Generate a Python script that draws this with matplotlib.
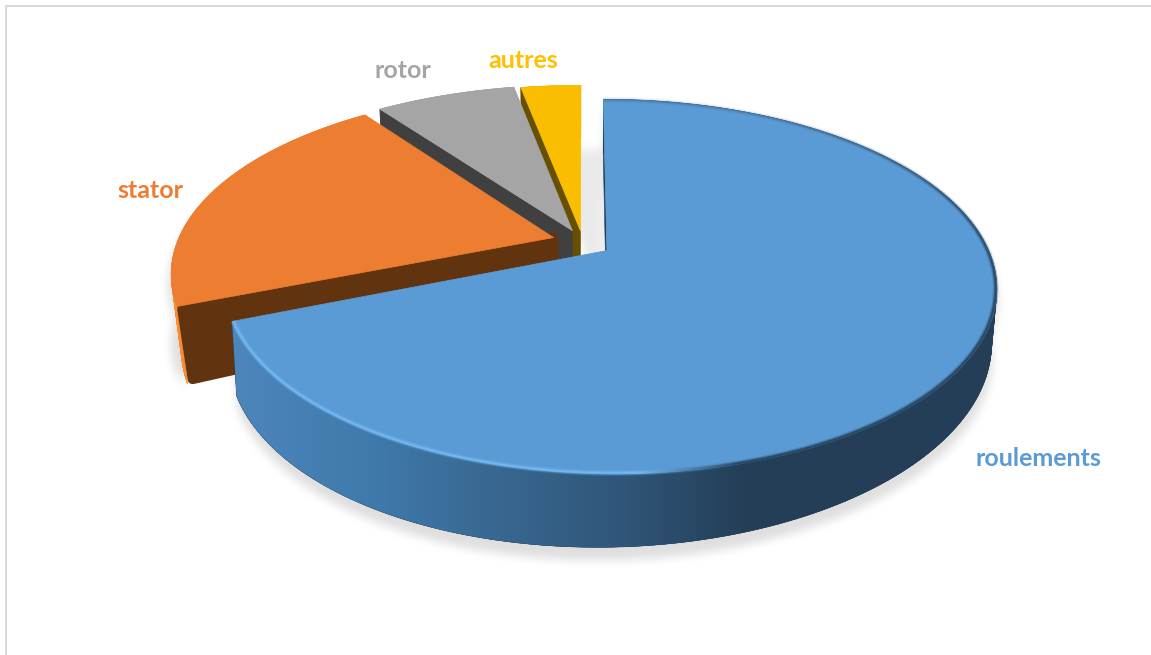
#!/usr/bin/env python3
"""Exploded 3D pie of failure shares, drawn from projected polygons."""

import numpy as np
import matplotlib
matplotlib.use('Agg')
import matplotlib.pyplot as plt
from matplotlib.collections import LineCollection, PolyCollection
from matplotlib.colors import to_rgb
from matplotlib.path import Path
from matplotlib.patches import Polygon

SLICE_NAMES = ['roulements', 'stator', 'rotor', 'autres']
SLICE_VALUES = [69, 21, 7, 3]

TOP_COLORS = ['#5b9bd5', '#ed7d31', '#a5a5a5', '#fbbd00']
SIDE_COLORS = ['#233f57', '#61330f', '#404040', '#665000']
RIM_COLORS = ['#233f57', '#f98b34', '#9b9b9b', '#d9a400']
LABEL_COLORS = ['#5b9bd5', '#ed7d31', '#a5a5a5', '#ffc000']
LABEL_POS = [(1038, 458), (150, 191), (403, 71), (523, 61)]

WIDTH, HEIGHT = 1151, 655
CX = [585, 579, 583, 583]
CY = [243.5, 241, 242, 243]
AX = [375.8, 381, 385, 385]
SKEW = [-0.0072, -0.012, 0, 0]
AY = 177.5
PERSP = 0.191
DEPTH = [63, 67, 61, 61]
DEPTH_TILT = 0.15
SHRINK = [0.012, 0.025, 0.012, 0.012]
EXPLODE = 0.07


def project(px, py, z, i):
    w = 1 + PERSP * py + SKEW[i] * px + SHRINK[i] * z
    x = CX[i] + AX[i] * px / w
    y = CY[i] - (AY * py - DEPTH[i] * z * (1 - DEPTH_TILT * px)) / w
    return np.column_stack([x, y])


def arc(i, a0, a1, z, n=200, r=1.0):
    t = np.radians(np.linspace(a0, a1, n))
    ox, oy = offsets[i]
    return project(ox + r * np.sin(t), oy + r * np.cos(t), z, i)


def apex(i, z):
    ox, oy = offsets[i]
    return project(np.array([ox]), np.array([oy]), z, i)


def radial_wall(i, a, inset=0.0):
    rim_top = arc(i, a, a, 0, 1)
    rim_bot = arc(i, a, a, 1, 1)
    # pull the outline in so a thick round stroke gives soft corners
    rim_top = rim_top + np.array([inset, inset * 0.5])
    rim_bot = rim_bot + np.array([inset, -inset])
    return np.vstack([apex(i, 0), rim_top, rim_bot,
                      apex(i, 1) + np.array([0, -inset])])


def outer_wall(i):
    a0, a1 = angles[i], angles[i + 1]
    return np.vstack([arc(i, a0, a1, 0), arc(i, a0, a1, 1)[::-1]])


def wall_strips(i):
    # The rim folds over near its side extremes, so fill it strip by strip
    a0, a1 = angles[i], angles[i + 1]
    up, low = arc(i, a0, a1, 0), arc(i, a0, a1, 1)
    return [np.array([up[k], up[k + 1], low[k + 1], low[k]])
            for k in range(len(up) - 1)]


def top_face(i):
    return np.vstack([apex(i, 0), arc(i, angles[i], angles[i + 1], 0)])


def blur(a, size, passes=3):
    kernel = np.ones(size) / size
    for _ in range(passes):
        a = np.apply_along_axis(np.convolve, 0, a, kernel, mode='same')
        a = np.apply_along_axis(np.convolve, 1, a, kernel, mode='same')
    return a


def draw_shadow(ax):
    gx, gy = np.meshgrid(np.arange(WIDTH) + 0.5, np.arange(HEIGHT) + 0.5)
    grid = np.column_stack([gx.ravel(), gy.ravel()])
    mask = np.zeros(gx.shape)
    shapes = [(outer_wall(0), (1, 13), 1.0), (outer_wall(1), (-3, 11), 1.0),
              (top_face(0), (0, 13), 1.0), (top_face(1), (0, 70), 1.0),
              (top_face(3), (22, 64), 0.65)]
    for poly, shift, weight in shapes:
        inside = Path(poly + np.array(shift)).contains_points(grid)
        mask = np.maximum(mask, inside.reshape(gx.shape) * weight)
    rgba = np.zeros(gx.shape + (4,))
    rgba[..., 3] = blur(mask, 9) * 0.13
    ax.imshow(rgba, extent=(0, WIDTH, HEIGHT, 0), aspect='auto', zorder=1,
              interpolation='bilinear')


def draw_wall_gradient(ax, poly_patch, zorder):
    # Horizontal light falloff across the front of the large slice
    xs = np.arange(WIDTH)
    stops = [(235, '#4c86bb'), (380, '#3f78aa'), (500, '#38678f'),
             (620, '#30567a'), (750, '#233e56'), (1000, '#233f57')]
    sx = [s[0] for s in stops]
    cols = np.array([to_rgb(s[1]) for s in stops])
    grad = np.stack([np.interp(xs, sx, cols[:, k]) for k in range(3)], axis=-1)
    im = ax.imshow(grad[np.newaxis, :, :], extent=(0, WIDTH, HEIGHT, 0),
                   aspect='auto', zorder=zorder)
    im.set_clip_path(poly_patch)


def draw_rim(ax, zorder):
    # Bevel along the top edge: bright on the lit side, dark on the far side
    pts = arc(0, angles[0], angles[1], 0, 500, r=0.997)
    segs = np.stack([pts[:-1], pts[1:]], axis=1)
    x = (pts[:-1, 0] + pts[1:, 0]) / 2
    y = (pts[:-1, 1] + pts[1:, 1]) / 2
    light = np.array(to_rgb('#74baf5'))
    dark = np.array(to_rgb('#233f57'))
    mix = np.where(y < 250, 1.0, np.interp(x, [640, 740], [0, 1]))
    rgb = light[None, :] * (1 - mix[:, None]) + dark[None, :] * mix[:, None]
    # the dark edge fades out towards the back of the disc
    fade = np.interp(y, [110, 300], [0.2, 1.0])
    for lw, strength in [(4.0, 0.25), (2.4, 0.45), (1.2, 0.8)]:
        colors = np.column_stack([rgb, strength * fade])
        ax.add_collection(LineCollection(segs, colors=colors, linewidths=lw,
                                         capstyle='butt', zorder=zorder))


fractions = np.array(SLICE_VALUES) / sum(SLICE_VALUES)
angles = np.concatenate([[0], np.cumsum(fractions) * 360])
mids = np.radians((angles[:-1] + angles[1:]) / 2)
offsets = [(EXPLODE * np.sin(m), EXPLODE * np.cos(m)) for m in mids]

plt.rcParams['font.family'] = ['Lato', 'DejaVu Sans']
fig = plt.figure(figsize=(WIDTH / 100, HEIGHT / 100), dpi=100)
ax = fig.add_axes([0, 0, 1, 1])
ax.axis('off')

# Chart frame, only the top and left edges fall inside the canvas
ax.plot([6.5, 6.5, WIDTH], [HEIGHT, 6, 6], color='#d9d9d9', lw=1.5, zorder=0,
        solid_joinstyle='miter')

draw_shadow(ax)

z = 2
# Back slices first so the nearer ones paint over their walls
for i in [3, 2, 1, 0]:
    ax.add_collection(PolyCollection(wall_strips(i), facecolors=RIM_COLORS[i],
                                     edgecolors=RIM_COLORS[i], linewidths=0.3,
                                     zorder=z))
    if i == 0:
        # clip patch for the shaded front of the large slice
        rim = Polygon(outer_wall(i), closed=True, facecolor=RIM_COLORS[i],
                      edgecolor='none', zorder=z)
        ax.add_patch(rim)
        draw_wall_gradient(ax, rim, z + 0.5)
    # only the leading cut face of each slice can be seen
    rounded = i == 1
    ax.add_patch(Polygon(radial_wall(i, angles[i], 5.0 if rounded else 0.0),
                         closed=True, facecolor=SIDE_COLORS[i],
                         edgecolor=SIDE_COLORS[i],
                         lw=7.2 if rounded else 0.4, joinstyle='round',
                         zorder=z + 1))
    ax.add_patch(Polygon(top_face(i), closed=True, facecolor=TOP_COLORS[i],
                         edgecolor=TOP_COLORS[i], lw=0.5, joinstyle='round',
                         zorder=z + 2))
    z += 3

draw_rim(ax, z)

for name, color, (lx, ly) in zip(SLICE_NAMES, LABEL_COLORS, LABEL_POS):
    ax.text(lx, ly, name, color=color, fontsize=18, fontweight='bold',
            ha='center', va='center', zorder=z + 1)

ax.set_xlim(0, WIDTH)
ax.set_ylim(HEIGHT, 0)

fig.savefig('out.png', dpi=100, facecolor='white')
